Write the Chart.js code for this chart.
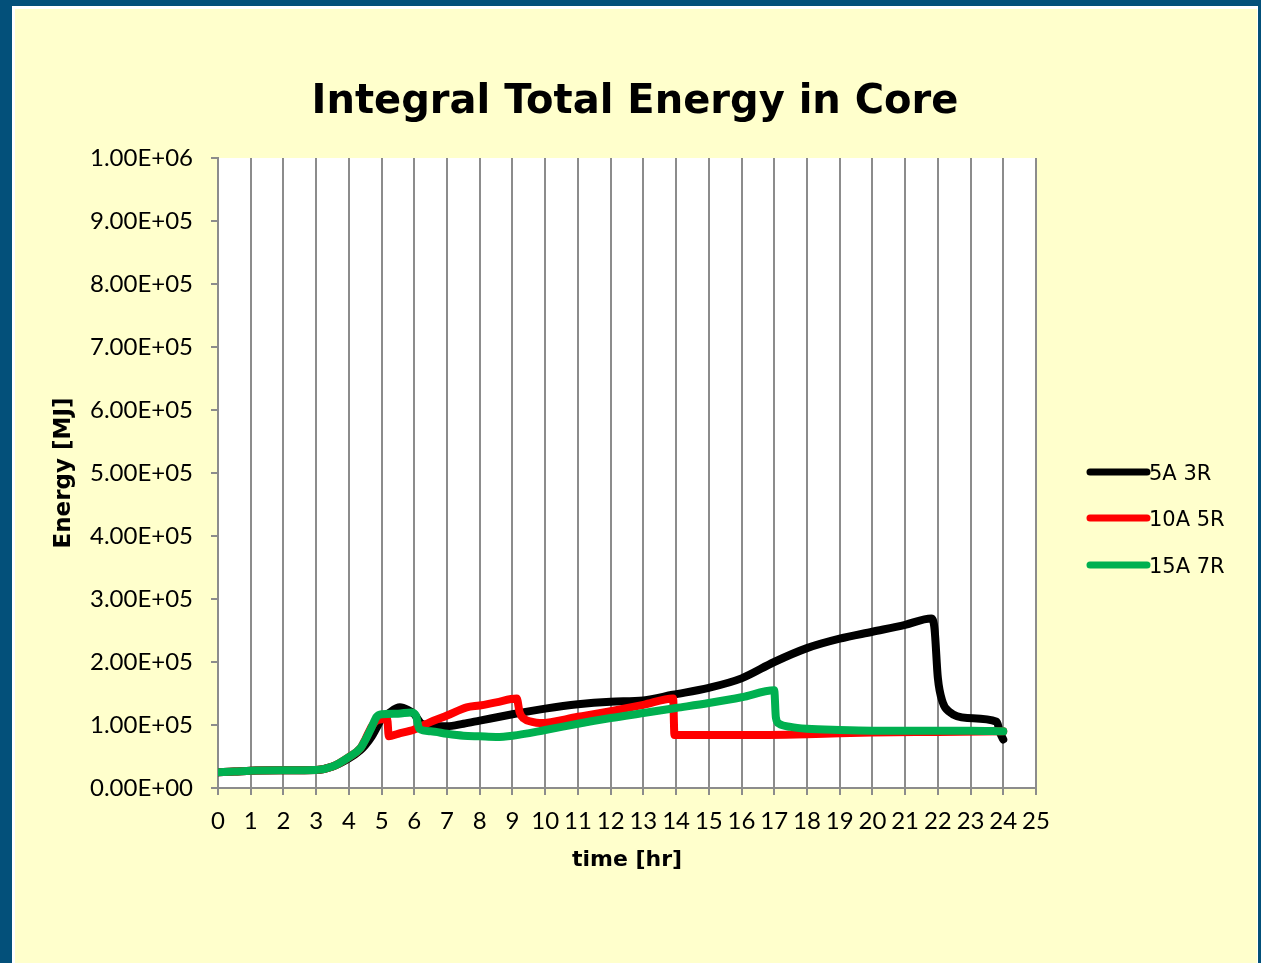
<!DOCTYPE html>
<html>
<head>
<meta charset="utf-8">
<title>Integral Total Energy in Core</title>
<script src="https://cdn.jsdelivr.net/npm/chart.js@4.4.1/dist/chart.umd.min.js"></script>
<style>
  html, body { margin: 0; padding: 0; overflow: hidden; background: #03507a; }
  #wrap { width: 1261px; height: 963px; }
</style>
</head>
<body>
<div id="wrap"><canvas id="chart" width="1261" height="963"></canvas></div>
<script>
// Chart heading and series labels / colours
const chartTitle   = 'Integral Total Energy in Core';
const seriesNames  = ['5A 3R', '10A 5R', '15A 7R'];
const seriesColors = ['#000000', '#ff0000', '#00b050'];

// 5A 3R : time [hr] and integral energy [MJ]
const timeA   = [0, 0.5, 1, 2, 3, 3.5, 4, 4.35, 4.5, 4.7, 4.85, 5.0, 5.2, 5.56, 5.8, 6.0, 6.2, 6.5, 7.0, 7.5, 8, 9, 10, 11, 12, 13, 13.9, 15, 16, 17, 18, 19, 20, 21, 21.8, 21.9, 22.0, 22.15, 22.35, 22.9, 23.8, 23.9, 24.0];
const energyA = [2.5e4, 2.6e4, 2.75e4, 2.8e4, 2.85e4, 3.4e4, 4.7e4, 6.0e4, 6.8e4, 8.2e4, 9.6e4, 1.1e5, 1.18e5, 1.28e5, 1.24e5, 1.17e5, 1.03e5, 9.9e4, 9.8e4, 1.02e5, 1.07e5, 1.17e5, 1.26e5, 1.33e5, 1.37e5, 1.39e5, 1.48e5, 1.59e5, 1.74e5, 2.0e5, 2.22e5, 2.37e5, 2.48e5, 2.59e5, 2.69e5, 2.52e5, 1.75e5, 1.36e5, 1.21e5, 1.11e5, 1.05e5, 8.8e4, 7.7e4];

// 10A 5R
const timeB   = [0, 0.5, 1, 2, 3, 3.5, 4, 4.35, 4.5, 4.7, 4.85, 5.0, 5.17, 5.22, 5.5, 6.0, 6.5, 7.0, 7.6, 8.0, 8.5, 9.13, 9.22, 9.35, 9.6, 9.84, 11, 12, 13, 13.91, 13.95, 15, 16, 18, 19, 20, 22, 24];
const energyB = [2.5e4, 2.6e4, 2.75e4, 2.8e4, 2.85e4, 3.4e4, 4.9e4, 6.3e4, 7.7e4, 9.8e4, 1.07e5, 1.09e5, 1.1e5, 8.2e4, 8.6e4, 9.3e4, 1.05e5, 1.15e5, 1.28e5, 1.31e5, 1.36e5, 1.42e5, 1.2e5, 1.1e5, 1.05e5, 1.03e5, 1.13e5, 1.22e5, 1.32e5, 1.42e5, 8.4e4, 8.4e4, 8.4e4, 8.55e4, 8.7e4, 8.8e4, 8.9e4, 9.0e4];

// 15A 7R
const timeC   = [0, 0.5, 1, 2, 3, 3.5, 4, 4.35, 4.5, 4.7, 4.85, 5.0, 5.5, 5.9, 6.05, 6.15, 6.5, 7, 7.5, 8, 8.5, 9, 10, 11, 12, 13, 14, 15, 16, 17, 17.05, 17.15, 17.5, 18, 19, 20, 21, 22, 23, 24];
const energyC = [2.5e4, 2.6e4, 2.75e4, 2.8e4, 2.85e4, 3.4e4, 4.9e4, 6.3e4, 7.6e4, 9.7e4, 1.13e5, 1.17e5, 1.18e5, 1.2e5, 1.15e5, 9.4e4, 9.0e4, 8.6e4, 8.3e4, 8.2e4, 8.1e4, 8.3e4, 9.2e4, 1.02e5, 1.11e5, 1.19e5, 1.27e5, 1.35e5, 1.44e5, 1.55e5, 1.12e5, 1.02e5, 9.7e4, 9.4e4, 9.2e4, 9.1e4, 9.1e4, 9.1e4, 9.1e4, 9.0e4];

// Axis ranges and tick steps
const xMin = 0, xMax = 25, xStep = 1;
const yMin = 0, yMax = 1e6, yStep = 1e5;

const TICK_FONT = 'Lato';
const TEXT_FONT = '"DejaVu Sans"';
const GRID = '#8c8c8c';

function toPoints(xs, ys) { return xs.map((x, i) => ({ x: x, y: ys[i] })); }

// Scientific tick labels with a two-digit exponent: 1.00E+06
function sci(v) {
  if (v === 0) return '0.00E+00';
  const e = Math.floor(Math.log10(Math.abs(v)) + 1e-9);
  const m = v / Math.pow(10, e);
  return m.toFixed(2) + 'E' + (e < 0 ? '-' : '+') + String(Math.abs(e)).padStart(2, '0');
}

// Page panel, white plot area
const backdrop = {
  id: 'backdrop',
  beforeDraw(chart) {
    const ctx = chart.ctx, a = chart.chartArea;
    ctx.save();
    ctx.fillStyle = '#03507a';
    ctx.fillRect(0, 0, chart.width, chart.height);
    ctx.fillStyle = '#ffffff';
    ctx.fillRect(12, 6, 1246, chart.height - 6);
    ctx.fillStyle = '#ffffcc';
    ctx.fillRect(15, 9, 1242, chart.height - 9);
    ctx.fillStyle = '#ffffff';
    ctx.fillRect(a.left, a.top, a.right - a.left, a.bottom - a.top);
    ctx.restore();
  }
};

// Heading centred over the whole panel
const heading = {
  id: 'heading',
  afterDraw(chart) {
    const ctx = chart.ctx;
    ctx.save();
    ctx.fillStyle = '#000000';
    ctx.font = 'bold 40px ' + TEXT_FONT;
    ctx.textAlign = 'center';
    ctx.textBaseline = 'alphabetic';
    ctx.fillText(chartTitle, 635, 113);
    ctx.restore();
  }
};

// Legend on the right: short thick line followed by the series name
const sideLegend = {
  id: 'sideLegend',
  afterDraw(chart) {
    const ctx = chart.ctx;
    const x0 = 1090, x1 = 1147, ys = [472, 518, 565];
    ctx.save();
    chart.data.datasets.forEach((ds, i) => {
      ctx.strokeStyle = ds.borderColor;
      ctx.lineWidth = 7;
      ctx.lineCap = 'round';
      ctx.beginPath();
      ctx.moveTo(x0, ys[i]);
      ctx.lineTo(x1, ys[i]);
      ctx.stroke();
      ctx.fillStyle = '#000000';
      ctx.font = '21px ' + TEXT_FONT;
      ctx.textAlign = 'left';
      ctx.textBaseline = 'alphabetic';
      ctx.fillText(ds.label, x1 + 2, ys[i] + 8);
    });
    ctx.restore();
  }
};

const allT = [timeA, timeB, timeC];
const allE = [energyA, energyB, energyC];

const datasets = seriesNames.map((name, i) => ({
  label: name,
  data: toPoints(allT[i], allE[i]),
  borderColor: seriesColors[i],
  backgroundColor: seriesColors[i],
  borderWidth: 8,
  pointRadius: 0,
  pointHoverRadius: 0,
  fill: false,
  cubicInterpolationMode: 'monotone',
  borderCapStyle: 'round',
  borderJoinStyle: 'round',
  order: 3 - i
}));

Chart.defaults.font.family = TICK_FONT;
Chart.defaults.color = '#000000';

new Chart(document.getElementById('chart'), {
  type: 'line',
  data: { datasets: datasets },
  options: {
    responsive: false,
    animation: false,
    devicePixelRatio: 1,
    layout: { padding: { top: 158, left: 15, right: 225, bottom: 85 } },
    plugins: {
      legend: { display: false },
      tooltip: { enabled: false },
      title: { display: false }
    },
    scales: {
      x: {
        type: 'linear',
        min: xMin, max: xMax,
        afterFit(s) { s.height = 90; },
        ticks: { stepSize: xStep, color: '#000000', font: { family: TICK_FONT, size: 24 }, padding: 12, maxRotation: 0, autoSkip: false },
        grid: { color: GRID, lineWidth: 2, tickLength: 7, drawTicks: true },
        border: { display: true, color: GRID, width: 2 },
        title: { display: true, text: 'time [hr]', color: '#000000', font: { family: TEXT_FONT, size: 22, weight: 'bold' }, padding: { top: 0, bottom: 5 } }
      },
      y: {
        type: 'linear',
        min: yMin, max: yMax,
        afterFit(s) { s.width = 203; },
        ticks: { stepSize: yStep, color: '#000000', font: { family: TICK_FONT, size: 24 }, padding: 18, callback: (v) => sci(v) },
        grid: { drawOnChartArea: false, color: GRID, lineWidth: 2, tickLength: 7, drawTicks: true },
        border: { display: true, color: GRID, width: 2 },
        title: { display: true, text: 'Energy [MJ]', color: '#000000', font: { family: TEXT_FONT, size: 23, weight: 'bold' }, padding: { top: 35, bottom: 0 } }
      }
    }
  },
  plugins: [backdrop, heading, sideLegend]
});
</script>
</body>
</html>
